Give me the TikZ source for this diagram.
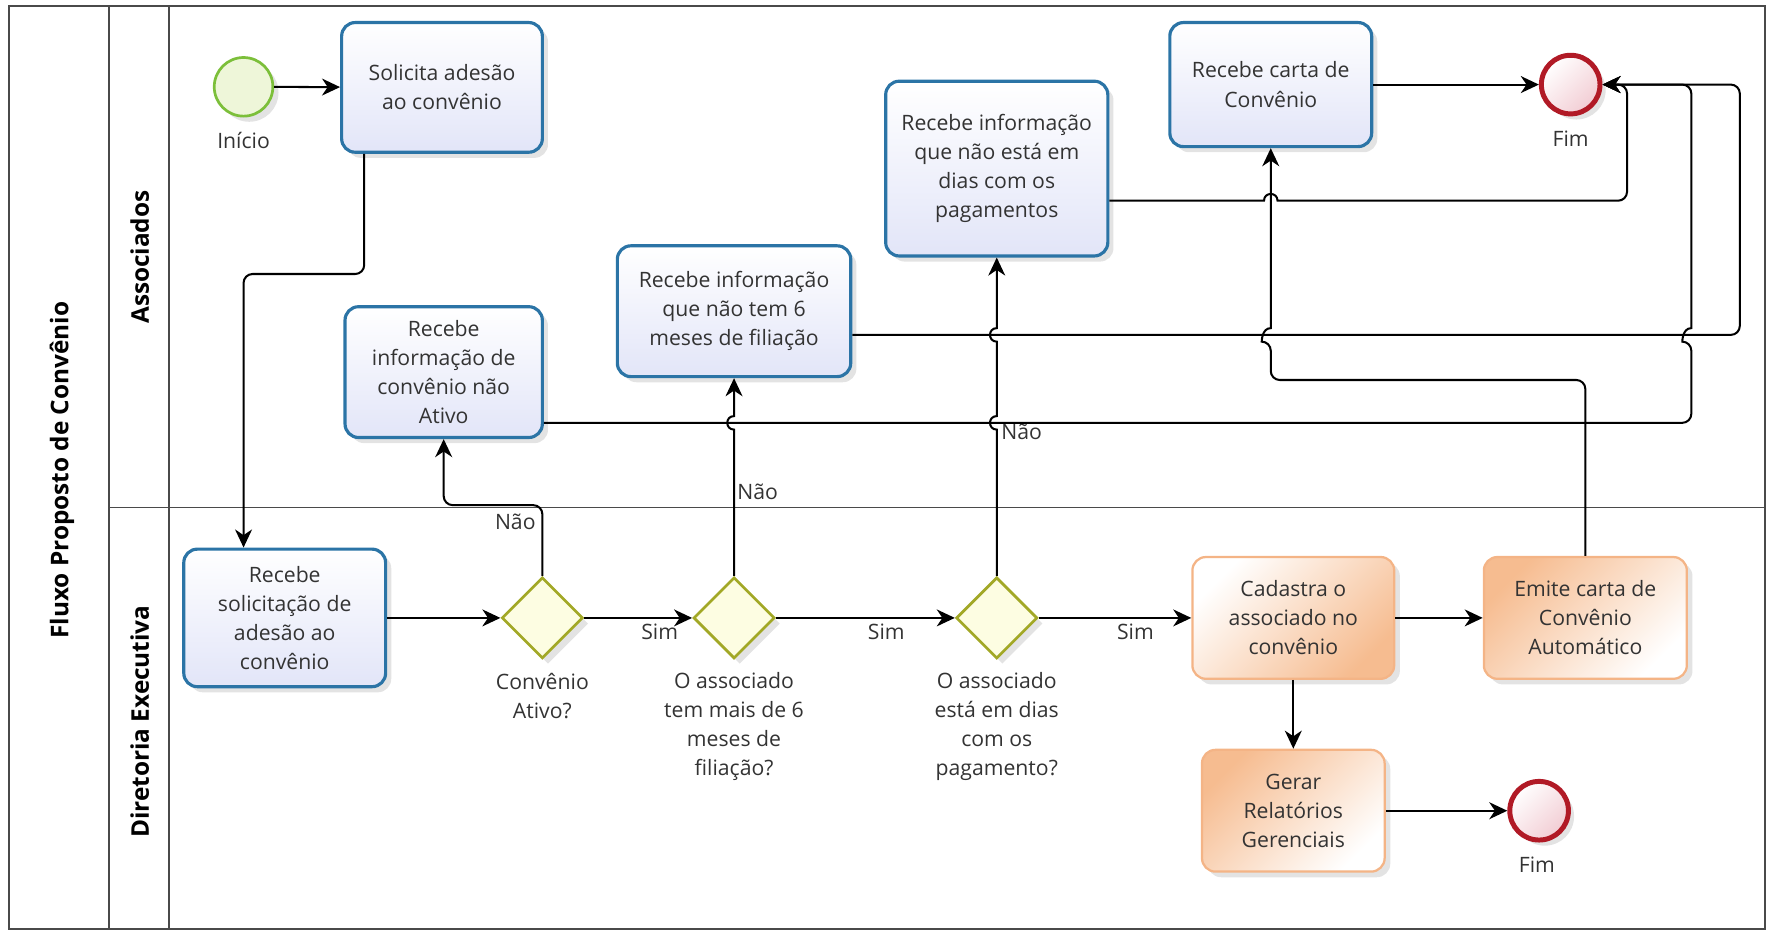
\documentclass[tikz,border=0pt]{standalone}
\usepackage{fontspec}
\setmainfont{Open Sans}
\usetikzlibrary{shapes.geometric,arrows.meta,shadows}
\definecolor{taskblue}{HTML}{2B74A6}
\definecolor{tasklav}{HTML}{E2E5F8}
\definecolor{orgline}{HTML}{F4B486}
\definecolor{orgfill}{HTML}{F6BC90}
\definecolor{gateline}{HTML}{A2A826}
\definecolor{gatefill}{HTML}{FDFDE2}
\definecolor{startline}{HTML}{7CBF3A}
\definecolor{startfill}{HTML}{EEF6D9}
\definecolor{endline}{HTML}{B11A26}
\definecolor{endfill}{HTML}{F2CCD3}
\definecolor{txtcol}{HTML}{333333}
\definecolor{lanecol}{HTML}{4A4A4A}
\newcommand{\bxf}{\fontsize{9.4}{12.9}\selectfont}
\newcommand{\ttlf}{\fontsize{10.8}{12}\selectfont\bfseries}
\begin{document}
\begin{tikzpicture}[x=0.5pt,y=-0.5pt,
  shad/.style={drop shadow={opacity=0.22,shadow xshift=2.5pt,shadow yshift=-2.5pt}},
  task/.style={shape=rectangle,rounded corners=6pt,draw=taskblue,line width=1.4pt,top color=white,bottom color=tasklav,align=center,font=\bxf,text=txtcol,inner sep=0pt,shad},
  otask/.style={shape=rectangle,rounded corners=6pt,draw=orgline,line width=1pt,align=center,font=\bxf,text=txtcol,inner sep=0pt,shad},
  gate/.style={diamond,draw=gateline,fill=gatefill,line width=1.2pt,minimum width=36pt,minimum height=36pt,inner sep=0pt,shad},
  startev/.style={circle,draw=startline,fill=startfill,line width=1.2pt,minimum size=26pt,inner sep=0pt,shad},
  endev/.style={circle,draw=endline,line width=2.2pt,minimum size=26pt,inner sep=0pt,top color=white,bottom color=endfill,shading angle=45,shad},
  lbl/.style={font=\bxf,text=txtcol,align=center,inner sep=0pt},
  flow/.style={draw=black,line width=0.9pt,-{Stealth[length=8pt,width=7.5pt,inset=2.5pt]}},
  lane/.style={draw=lanecol,line width=0.8pt},
  ttl/.style={font=\ttlf,text=black,rotate=90}
]
\useasboundingbox (0,0) rectangle (1568,826);
% pool and lanes
\draw[lane] (8,5) rectangle (1565,824);
\draw[lane] (97,5) -- (97,824);
\draw[lane] (150,5) -- (150,824);
\draw[lane] (97,450) -- (1565,450);
\node[ttl] (pool) at (55,417) {Fluxo Proposto de Convênio};
\node[ttl] (laneA) at (124,228) {Associados};
\node[ttl] (laneD) at (124,640) {Diretoria Executiva};

% nodes
\node[startev] (start) at (216,77) {};
\node[lbl] (startl) at (216,125) {Início};
\node[task,minimum width=89pt,minimum height=57.5pt] (sol) at (392,77.5) {Solicita adesão\\ao convênio};
\node[task,minimum width=87.5pt,minimum height=58pt] (ativo) at (393.5,330) {Recebe\\informação de\\convênio não\\Ativo};
\node[task,minimum width=103.5pt,minimum height=58pt] (seis) at (651,276) {Recebe informação\\que não tem 6\\meses de filiação};
\node[task,minimum width=98.5pt,minimum height=77.5pt] (dias) at (884,149.5) {Recebe informação\\que não está em\\dias com os\\pagamentos};
\node[task,minimum width=89.5pt,minimum height=55pt] (carta) at (1127,75) {Recebe carta de\\Convênio};
\node[endev] (fim1) at (1393,75) {};
\node[lbl] (fim1l) at (1393,123) {Fim};

\node[task,minimum width=89.5pt,minimum height=61pt] (recsol) at (252.5,548) {Recebe\\solicitação de\\adesão ao\\convênio};
\node[gate] (d1) at (481,548) {};
\node[gate] (d2) at (651,548) {};
\node[gate] (d3) at (884,548) {};
\node[lbl] (d1l) at (481,617) {Convênio\\Ativo?};
\node[lbl] (d2l) at (651,644) {O associado\\tem mais de 6\\meses de\\filiação?};
\node[lbl] (d3l) at (884,644) {O associado\\está em dias\\com os\\pagamento?};
\node[otask,top color=white,bottom color=orgfill,shading angle=45,minimum width=89.5pt,minimum height=54pt] (cad) at (1147,548) {Cadastra o\\associado no\\convênio};
\node[otask,top color=orgfill,bottom color=white,shading angle=45,minimum width=90pt,minimum height=54pt] (emite) at (1406,548) {Emite carta de\\Convênio\\Automático};
\node[otask,top color=orgfill,bottom color=white,shading angle=45,minimum width=81pt,minimum height=54pt] (gerar) at (1147,719) {Gerar\\Relatórios\\Gerenciais};
\node[endev] (fim2) at (1365,719) {};
\node[lbl] (fim2l) at (1363,767) {Fim};

% labels
\node[lbl] (n1) at (457,463) {Não};
\node[lbl] (n2) at (672,436) {Não};
\node[lbl] (n3) at (906,383) {Não};
\node[lbl] (s1) at (585,560) {Sim};
\node[lbl] (s2) at (786,560) {Sim};
\node[lbl] (s3) at (1007,560) {Sim};

% coordinates
\coordinate (a1) at (323,243);
\coordinate (a2) at (216,243);
\coordinate (b1) at (481,448);
\coordinate (b2) at (393.5,448);
\coordinate (y178) at (1000,178);
\coordinate (y297) at (800,297);
\coordinate (y375) at (500,375);

% connectors
\draw[flow] (start) -- (sol);
\draw[flow,rounded corners=4pt] (sol.south -| a1) -- (a1) -- (a2) -- (a2 |- recsol.north);
\draw[flow] (recsol) -- (d1);
\draw[flow] (d1) -- (d2);
\draw[flow] (d2) -- (d3);
\draw[flow] (d3) -- (cad);
\draw[flow] (cad) -- (emite);
\draw[flow] (cad) -- (gerar);
\draw[flow] (gerar) -- (fim2);
\draw[flow,rounded corners=4pt] (d1.north) -- (b1) -- (b2) -- (ativo.south);
\draw[flow] (d2.north) -- (651,381) .. controls (643,381) and (643,369) .. (651,369) -- (seis.south);
\draw[flow] (d3.north) -- (884,381) .. controls (876,381) and (876,369) .. (884,369)
   -- (884,303) .. controls (876,303) and (876,291) .. (884,291) -- (dias.south);
\draw[flow] (emite.north) [rounded corners=4pt] -- (1406,337) -- (1127,337) -- (1127,303) [sharp corners]
   .. controls (1119,303) and (1119,291) .. (1127,291) -- (carta.south);
\draw[flow] (carta) -- (fim1);
\draw[flow] (dias.east |- y178) -- (1121,178) .. controls (1121,170) and (1133,170) .. (1133,178)
   [rounded corners=4pt] -- (1443,178) -- (1443,75) -- (fim1.east);
\draw[flow,rounded corners=4pt] (seis.east |- y297) -- (1543,297) -- (1543,75) -- (fim1.east);
\draw[flow] (ativo.east |- y375) [rounded corners=4pt] -- (1500,375) -- (1500,303) [sharp corners]
   .. controls (1492,303) and (1492,291) .. (1500,291) [rounded corners=4pt] -- (1500,75) -- (fim1.east);
\end{tikzpicture}
\end{document}
